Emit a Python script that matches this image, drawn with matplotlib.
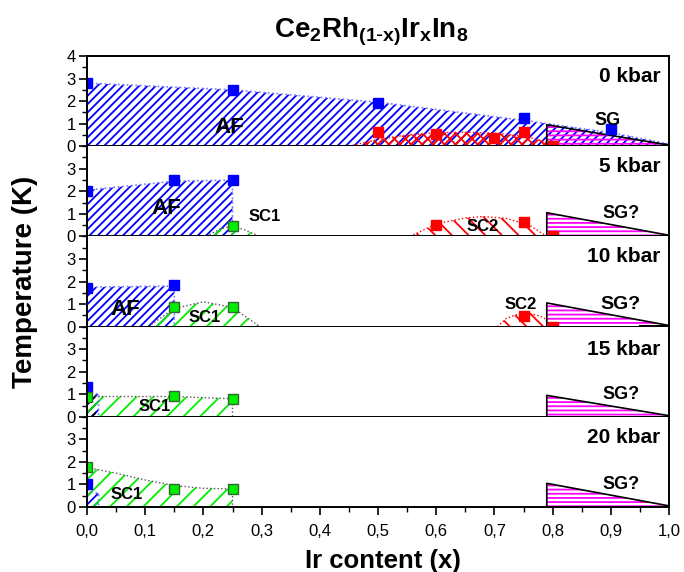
import numpy as np
import matplotlib
matplotlib.use("Agg")
import matplotlib.pyplot as plt
from matplotlib.ticker import MultipleLocator, FuncFormatter

plt.rcParams["font.family"] = ["Liberation Sans", "DejaVu Sans"]
plt.rcParams["mathtext.default"] = "regular"
plt.rcParams["hatch.linewidth"] = 1.3

# pressure of each panel (kbar)
pressures = [0, 5, 10, 15, 20]

# measured transition temperatures (K) vs Ir content x
af_x = [[0, 0.25, 0.5, 0.75, 0.9], [0, 0.15, 0.25], [0, 0.15], [0], [0]]
af_T = [[2.8, 2.5, 1.9, 1.25, 0.78], [2.0, 2.5, 2.5], [1.72, 1.85], [1.3], [1.0]]
sc1_x = [[], [0.25], [0.15, 0.25], [0, 0.15, 0.25], [0, 0.15, 0.25]]
sc1_T = [[], [0.45], [0.85, 0.88], [0.9, 0.92, 0.78], [1.78, 0.8, 0.8]]
sc2_x = [[0.5, 0.6, 0.7, 0.75, 0.8], [0.6, 0.75, 0.8], [0.75, 0.8], [], []]
sc2_T = [[0.62, 0.53, 0.37, 0.65, 0.0], [0.5, 0.63, 0.0], [0.48, 0.0], [], []]

# phase boundaries used for the shaded regions
af_edge_x = [[0, 0.25, 0.5, 0.75, 0.9, 1.0], [0, 0.15, 0.25, 0.25], [0, 0.15, 0.15],
             [0, 0.02, 0.02], [0, 0.02, 0.02]]
af_edge_T = [[2.8, 2.5, 1.95, 1.15, 0.6, 0.1], [2.05, 2.45, 2.5, 0], [1.75, 1.8, 0],
             [1.1, 1.0, 0], [0.75, 0.6, 0]]
sc1_edge_x = [[], [0.205, 0.23, 0.25, 0.27, 0.297], [0.105, 0.15, 0.2, 0.25, 0.297],
              [0, 0.02, 0.15, 0.25, 0.25], [0, 0.05, 0.1, 0.15, 0.2, 0.25, 0.25]]
sc1_edge_T = [[], [0, 0.35, 0.45, 0.3, 0], [0, 0.8, 1.1, 0.85, 0],
              [0.95, 0.9, 0.9, 0.8, 0], [1.75, 1.5, 1.2, 0.95, 0.83, 0.8, 0]]
sc2_edge_x = [[0.45, 0.5, 0.55, 0.6, 0.65, 0.7, 0.75, 0.79],
              [0.555, 0.6, 0.65, 0.68, 0.72, 0.76, 0.79],
              [0.705, 0.72, 0.74, 0.76, 0.78, 0.79], [], []]
sc2_edge_T = [[0, 0.3, 0.5, 0.6, 0.62, 0.58, 0.45, 0.2],
              [0, 0.55, 0.82, 0.88, 0.8, 0.5, 0.0],
              [0, 0.35, 0.55, 0.6, 0.45, 0.3], [], []]
sg_x = [0.79, 0.79, 1.0]
sg_top = [0.95, 1.05, 1.05, 0.95, 1.05]
sg_end = 0.05
sg_labels = ["SG", "SG?", "SG?", "SG?", "SG?"]

blue = "#0000ff"
green = "#00ee00"
red = "#ff0000"
magenta = "#ff00ff"

fig = plt.figure(figsize=(6.84, 5.72), dpi=100)
left, width = 87 / 684, 582 / 684
bottom0, ph = 1 - 507 / 572, 90.2 / 572

axes = []
for i, p in enumerate(pressures):
    ax = fig.add_axes([left, bottom0 + (4 - i) * ph, width, ph])
    axes.append(ax)
    ax.set_xlim(0, 1.0)
    ax.set_ylim(0, 4)

    # antiferromagnetic region
    if af_edge_x[i]:
        ax.fill_between(af_edge_x[i], 0, af_edge_T[i], facecolor="none",
                        edgecolor=blue, hatch="////", linewidth=0)
        ax.plot(af_edge_x[i], af_edge_T[i], ls=":", color="#7777ff", lw=1.2)
    if i == 3:
        ax.fill_between([0, 0.015], 0, [1.0, 1.0], facecolor="none",
                        edgecolor="black", hatch="////", linewidth=0)
    # superconducting regions
    if sc1_edge_x[i]:
        ax.fill_between(sc1_edge_x[i], 0, sc1_edge_T[i], facecolor="none",
                        edgecolor=green, hatch="//", linewidth=0)
        ax.plot(sc1_edge_x[i], sc1_edge_T[i], ls=":", color="#555555", lw=1)
    if sc2_edge_x[i]:
        h = "xxx" if i == 0 else "\\\\"
        ax.fill_between(sc2_edge_x[i], 0, sc2_edge_T[i], facecolor="none",
                        edgecolor=red, hatch=h, linewidth=0)
        ax.plot(sc2_edge_x[i], sc2_edge_T[i], ls=":", color=red, lw=1)
    # spin glass wedge
    sg_T = [0, sg_top[i], sg_end]
    ax.fill(sg_x + [1.0], sg_T + [0], facecolor="none", edgecolor=magenta,
            hatch="----", linewidth=0)
    ax.plot(sg_x, sg_T, color="black", lw=1.2)
    ax.plot([0.95, 1.0], [0.01, 0.01], color="black", lw=1.5)

    # data points
    ax.plot(af_x[i], af_T[i], "s", color=blue, ms=7, mec=blue)
    if sc1_x[i]:
        ax.plot(sc1_x[i], sc1_T[i], "s", color=green, ms=7, mec="#336633", mew=1)
    if sc2_x[i]:
        ax.plot(sc2_x[i], sc2_T[i], "s", color=red, ms=7, mec=red)

    ax.text(0.985, 3.1 if i != 3 else 3.0, f"{p} kbar", ha="right", va="center",
            fontsize=15, fontweight="bold")
    ax.text(0.917 if i else 0.895, 1.0 if i else 1.15, sg_labels[i], ha="center",
            va="center", fontsize=13 if i != 2 else 14, fontweight="bold")

    ax.xaxis.set_major_locator(MultipleLocator(0.1))
    ax.xaxis.set_minor_locator(MultipleLocator(0.05))
    ax.yaxis.set_major_locator(MultipleLocator(1))
    ax.yaxis.set_minor_locator(MultipleLocator(0.5))
    ax.tick_params(which="major", direction="out", length=6, width=1.2,
                   labelsize=12, pad=2)
    ax.tick_params(which="minor", direction="out", length=3.5, width=1.0)
    ax.tick_params(axis="x", which="major", pad=6)
    for s in ax.spines.values():
        s.set_linewidth(1.4)
    if i > 0:
        ax.spines["top"].set_visible(False)
        ax.set_yticks([0, 1, 2, 3])
    else:
        ax.set_yticks([0, 1, 2, 3, 4])
    if i < 4:
        ax.tick_params(axis="x", labelbottom=False)
    else:
        ax.xaxis.set_major_formatter(
            FuncFormatter(lambda v, _: f"{v:.1f}".replace(".", ",")))

# phase labels
axes[0].text(0.245, 0.85, "AF", ha="center", va="center", fontsize=16, fontweight="bold")
axes[0].text(0.64, -0.55, "SC2", ha="center", va="center", fontsize=12,
             fontweight="bold", clip_on=False)
axes[1].text(0.137, 1.25, "AF", ha="center", va="center", fontsize=16, fontweight="bold")
axes[1].text(0.306, 0.9, "SC1", ha="center", va="center", fontsize=12, fontweight="bold")
axes[1].text(0.68, 0.42, "SC2", ha="center", va="center", fontsize=12, fontweight="bold")
axes[2].text(0.065, 0.75, "AF", ha="center", va="center", fontsize=16, fontweight="bold")
axes[2].text(0.203, 0.4, "SC1", ha="center", va="center", fontsize=12, fontweight="bold")
axes[2].text(0.745, 0.98, "SC2", ha="center", va="center", fontsize=12, fontweight="bold")
axes[3].text(0.117, 0.45, "SC1", ha="center", va="center", fontsize=12, fontweight="bold")
axes[4].text(0.068, 0.55, "SC1", ha="center", va="center", fontsize=12, fontweight="bold")

fig.text(371 / 684, 0.945, r"Ce$_2$Rh$_{(1\text{-}x)}$Ir$_x$In$_8$",
         ha="center", va="center", fontsize=20, fontweight="bold")
fig.text(0.0365, bottom0 + 2.5 * ph, "Temperature (K)", rotation=90, ha="center",
         va="center", fontsize=20, fontweight="bold")
fig.text(383 / 684, 1 - 561 / 572, "Ir content (x)", ha="center", va="center",
         fontsize=18.5, fontweight="bold")

fig.savefig("out.png", dpi=100)
